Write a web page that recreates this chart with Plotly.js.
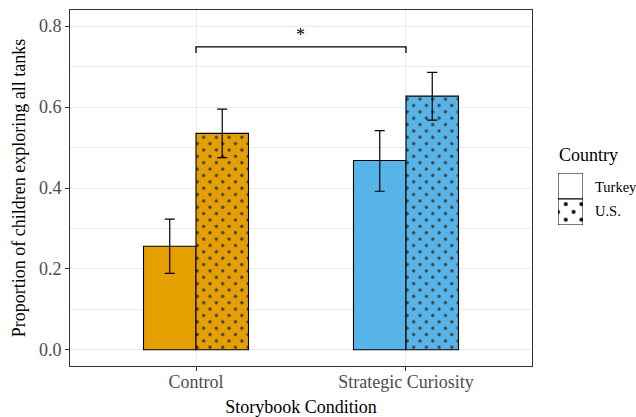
<!DOCTYPE html>
<html>
<head>
<meta charset="utf-8">
<script src="https://cdn.plot.ly/plotly-3.0.1.min.js"></script>
<style>
  html, body { margin: 0; padding: 0; background: #fff; }
  #chart { width: 636px; height: 417px; }
</style>
</head>
<body>
<div id="chart"></div>
<script>
// Storybook condition × country: proportion of children exploring all tanks
const conditions = ['Control', 'Strategic Curiosity'];
const conditionColors = ['#E69F00', '#56B4E9'];

const turkeyMean = [0.256, 0.468];
const turkeyLow  = [0.189, 0.392];
const turkeyHigh = [0.323, 0.542];

const usMean = [0.535, 0.627];
const usLow  = [0.475, 0.568];
const usHigh = [0.595, 0.686];

const countries = ['Turkey', 'U.S.'];
const yTicks = [0, 0.2, 0.4, 0.6, 0.8];

// significance bracket between the two conditions
const bracketY = 0.749;
const bracketDrop = 0.015;
const bracketLabel = '*';

const FONT = 'Liberation Serif, Times New Roman, serif';

function errUp(mean, high) { return mean.map((m, i) => high[i] - m); }
function errDown(mean, low) { return mean.map((m, i) => m - low[i]); }

const errStyle = { type: 'data', visible: true, color: '#000', thickness: 1.2, width: 5 };

const turkeyTrace = {
  type: 'bar', name: countries[0], x: conditions, y: turkeyMean,
  marker: { color: conditionColors, line: { color: '#000', width: 1.1 } },
  error_y: Object.assign({ array: errUp(turkeyMean, turkeyHigh), arrayminus: errDown(turkeyMean, turkeyLow) }, errStyle),
  showlegend: false, hoverinfo: 'skip'
};

// per-bar colours with an overlaid dot pattern (dots take a dark contrast colour)
const usTrace = {
  type: 'bar', name: countries[1], x: conditions, y: usMean,
  marker: {
    color: conditionColors, line: { color: '#000', width: 1.1 },
    pattern: { shape: '.', fillmode: 'overlay', fgopacity: 1, size: 9, solidity: 0.11 }
  },
  error_y: Object.assign({ array: errUp(usMean, usHigh), arrayminus: errDown(usMean, usLow) }, errStyle),
  showlegend: false, hoverinfo: 'skip'
};

// legend keys drawn as two stacked boxes on a small hidden subplot
const keyTurkey = {
  type: 'bar', x: [0.5], y: [1], base: [1], width: [1], offset: -0.5,
  xaxis: 'x2', yaxis: 'y2',
  marker: { color: '#fff', line: { color: '#000', width: 1 } },
  showlegend: false, hoverinfo: 'skip'
};
const keyUS = {
  type: 'bar', x: [0.5], y: [1], base: [0], width: [1], offset: -0.5,
  xaxis: 'x2', yaxis: 'y2',
  marker: {
    color: '#fff', line: { color: '#000', width: 1 },
    pattern: { shape: '.', fillmode: 'replace', bgcolor: '#fff', fgcolor: '#000', fgopacity: 1, size: 11, solidity: 0.1 }
  },
  showlegend: false, hoverinfo: 'skip'
};

const axisCommon = {
  showgrid: true, gridcolor: '#ebebeb', gridwidth: 1,
  showline: true, mirror: true, linecolor: '#333333', linewidth: 1,
  ticks: 'outside', ticklen: 4, tickwidth: 1, tickcolor: '#333333',
  tickfont: { family: FONT, size: 18, color: '#4d4d4d' },
  zeroline: false, fixedrange: true
};

const layout = {
  width: 636, height: 417,
  margin: { l: 70, r: 40, t: 10, b: 51 },
  paper_bgcolor: '#fff', plot_bgcolor: '#fff',
  font: { family: FONT, size: 18, color: '#000' },
  barmode: 'group', bargap: 0.5, bargroupgap: 0,
  showlegend: false,
  xaxis: Object.assign({}, axisCommon, {
    domain: [0, 0.8783], type: 'category', range: [-0.6, 1.6],
    ticklabelstandoff: -5,
    title: { text: 'Storybook Condition', font: { family: FONT, size: 18, color: '#000' }, standoff: 13 }
  }),
  yaxis: Object.assign({}, axisCommon, {
    range: [-0.04, 0.84], tickvals: yTicks, ticktext: yTicks.map(v => v.toFixed(1)),
    minor: { dtick: 0.1, tick0: 0, showgrid: true, gridcolor: '#ebebeb', gridwidth: 1, ticks: '' },
    title: { text: 'Proportion of children exploring all tanks', font: { family: FONT, size: 18, color: '#000' }, standoff: 8 }
  }),
  xaxis2: { domain: [0.9278, 0.9753], range: [0, 1], visible: false, anchor: 'y2', fixedrange: true },
  yaxis2: { domain: [0.3961, 0.5421], range: [0, 2], visible: false, anchor: 'x2', fixedrange: true },
  shapes: [{
    type: 'path', xref: 'x', yref: 'y',
    path: `M 0,${bracketY - bracketDrop} L 0,${bracketY} L 1,${bracketY} L 1,${bracketY - bracketDrop}`,
    line: { color: '#000', width: 1.3 }
  }],
  annotations: [
    { text: bracketLabel, x: 0.5, y: 0.779, xref: 'x', yref: 'y', showarrow: false,
      font: { family: FONT, size: 18, color: '#000' }, xanchor: 'center', yanchor: 'middle' },
    { text: 'Country', x: 0.9259, y: 0.5927, xref: 'paper', yref: 'paper', showarrow: false,
      font: { family: FONT, size: 18, color: '#000' }, xanchor: 'left', yanchor: 'middle' },
    { text: countries[0], x: 0.9943, y: 0.5028, xref: 'paper', yref: 'paper', showarrow: false,
      font: { family: FONT, size: 14.5, color: '#000' }, xanchor: 'left', yanchor: 'middle' },
    { text: countries[1], x: 0.9943, y: 0.4354, xref: 'paper', yref: 'paper', showarrow: false,
      font: { family: FONT, size: 14.5, color: '#000' }, xanchor: 'left', yanchor: 'middle' }
  ]
};

const gd = document.getElementById('chart');
Plotly.newPlot(gd, [turkeyTrace, usTrace, keyTurkey, keyUS], layout, { staticPlot: true, displayModeBar: false })
  .then(() => {
    // tilt the dot lattice so rows are staggered
    gd.querySelectorAll('pattern').forEach(p => p.setAttribute('patternTransform', 'rotate(45)'));
  });
</script>
</body>
</html>
